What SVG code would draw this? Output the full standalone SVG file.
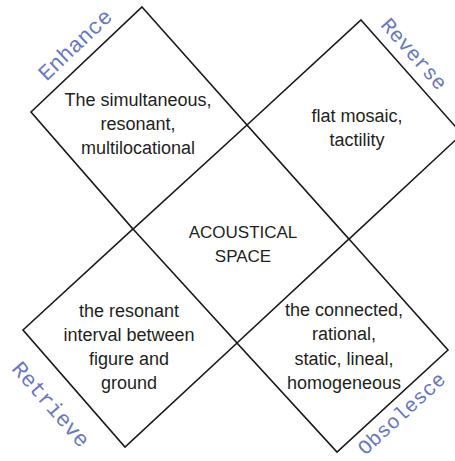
<svg xmlns="http://www.w3.org/2000/svg" width="455" height="461" viewBox="0 0 455 461">
<style>
.d{fill:none;stroke:#1a1a1a;stroke-width:1.6;stroke-linejoin:miter}
.t{font-family:"Liberation Sans",Arial,sans-serif;font-size:18px;fill:#231f20;text-anchor:middle}
.c{font-size:17px}
.l{font-family:"Liberation Mono","Courier New",monospace;font-size:22px;fill:#6878c2;text-anchor:middle}
.s{font-size:21px}
.o{font-size:20.5px}
</style>
<rect width="455" height="461" fill="#ffffff"/>
<g id="connectors"></g>
<g id="enhance">
<polygon class="d" points="142,7 247,125 133,229 31,112"/>
<text class="t" x="138" y="106">The simultaneous,</text>
<text class="t" x="138" y="130">resonant,</text>
<text class="t" x="138" y="154">multilocational</text>
<text class="l" transform="translate(80,50) rotate(-43.4)">Enhance</text>
</g>
<g id="reverse">
<polygon class="d" points="361,20 462,134 349,239 247,125"/>
<text class="t" x="357" y="122">flat mosaic,</text>
<text class="t" x="357" y="146">tactility</text>
<text class="l s" transform="translate(409,58.5) rotate(48.5)">Reverse</text>
</g>
<g id="obsolesce">
<polygon class="d" points="349,239 448,350 337,452 237,343"/>
<text class="t" x="344" y="316">the connected,</text>
<text class="t" x="344" y="340">rational,</text>
<text class="t" x="344" y="365">static, lineal,</text>
<text class="t" x="344" y="389">homogeneous</text>
<text class="l o" transform="translate(406,418.5) rotate(-42.6)">Obsolesce</text>
</g>
<g id="retrieve">
<polygon class="d" points="133,229 237,343 125,447 23,330"/>
<text class="t" x="129" y="317">the resonant</text>
<text class="t" x="129" y="341">interval between</text>
<text class="t" x="129" y="365">figure and</text>
<text class="t" x="129" y="389">ground</text>
<text class="l" transform="translate(45.5,409) rotate(48.9)">Retrieve</text>
</g>
<g id="acoustical-space">
<text class="t c" x="243" y="238">ACOUSTICAL</text>
<text class="t c" x="243" y="262">SPACE</text>
</g>
</svg>
